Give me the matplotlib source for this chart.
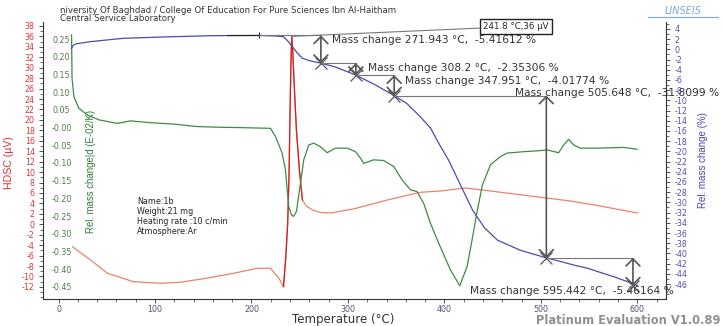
import numpy as np
import matplotlib.pyplot as plt
from matplotlib.lines import Line2D
from matplotlib.ticker import MultipleLocator, FormatStrFormatter

plt.rcParams["axes.unicode_minus"] = False

W, H = 723, 326

# ---- DSC signal (uV) ----
dsc_T = [14.5, 33.2, 50.8, 77.7, 105.7, 126.4, 154.4, 181.3, 206.2, 219.7, 228.3, 233.2,
         235.5, 237.5, 239.0, 240.3, 241.2, 241.8, 242.8, 244.5, 246.6, 249.7, 252.8, 257.0,
         263.2, 271.5, 281.9, 305.7, 340.9, 375.1, 395.9, 421.8, 447.7, 489.1, 530.6, 561.7, 600.0]
dsc_uV = [-4.3, -6.84, -9.39, -11.0, -11.3, -11.1, -10.3, -9.39, -8.43, -8.43, -10.3, -11.95,
          -6.5, 0.0, 10.0, 25.0, 33.0, 36.0, 33.0, 26.0, 18.0, 10.4, 4.66, 3.5,
          2.74, 2.26, 2.16, 2.93, 4.66, 6.13, 6.38, 6.95, 6.38, 5.42, 4.46, 3.5, 2.16]

# ---- DTG signal (E-02/K) ----
dtg_T = [13.5, 14.0, 15.9, 21.0, 29.7, 41.8, 60.8, 74.6, 95.3, 119.2, 143.7, 167.9, 188.6,
         219.7, 224.9, 231.8, 235.2, 238.6, 241.5, 243.8, 246.6, 250.8, 254.2, 257.7, 259.4,
         264.6, 271.5, 278.4, 287.0, 299.2, 307.8, 312.9, 316.4, 326.7, 337.1, 347.5, 356.2,
         364.8, 371.7, 378.5, 385.5, 394.1, 406.2, 415.9, 423.5, 428.7, 433.2, 439.4, 447.7,
         458.0, 465.0, 482.2, 499.5, 506.4, 518.4, 523.6, 528.8, 534.0, 540.9, 558.2, 585.8, 599.7]
dtg_val = [0.262, 0.140, 0.088, 0.055, 0.036, 0.022, 0.012, 0.019, 0.014, 0.010, 0.003, 0.001, 0.0,
           -0.002, -0.025, -0.072, -0.119, -0.223, -0.247, -0.251, -0.237, -0.157, -0.091, -0.063, -0.049,
           -0.044, -0.054, -0.071, -0.058, -0.058, -0.068, -0.086, -0.101, -0.091, -0.093, -0.110, -0.148,
           -0.176, -0.181, -0.214, -0.270, -0.327, -0.402, -0.447, -0.393, -0.317, -0.247, -0.162, -0.105,
           -0.082, -0.072, -0.068, -0.065, -0.063, -0.071, -0.049, -0.033, -0.049, -0.058, -0.058, -0.056, -0.061]

# ---- TG signal (%) ----
tg_T = [13.5, 15.0, 17.6, 32.7, 67.4, 119.2, 160.6, 208.3, 224.9, 233.2, 238.3, 243.5, 247.7,
        252.8, 261.1, 271.9, 287.0, 308.2, 328.5, 348.0, 361.0, 375.0, 385.5, 395.0, 404.3,
        416.7, 429.2, 441.6, 455.0, 478.9, 505.6, 520.6, 534.4, 548.2, 575.9, 596.6, 600.0]
tg_pct = [0.22, 0.75, 1.06, 1.51, 2.18, 2.49, 2.69, 2.73, 2.63, 2.49, 1.51, 0.27, -0.76,
          -1.75, -2.27, -2.69, -3.45, -5.04, -6.98, -9.06, -10.6, -13.2, -15.4, -18.7, -21.7,
          -26.6, -31.5, -35.0, -37.4, -39.4, -40.87, -41.6, -42.3, -42.9, -44.6, -46.0, -46.33]

# ---- mass-change steps ----
step_start_T, step_start_pct = 208.3, 2.73
step_T = [271.943, 308.2, 347.951, 505.648, 595.442]
step_dm = [-5.41612, -2.35306, -4.01774, -31.8099, -5.46164]
peak_T, peak_uV = 241.8, 36

x_ticks = list(range(0, 601, 100))
dsc_ticks = list(range(-12, 39, 2))
dtg_ticks = [round(v, 2) for v in np.arange(-0.45, 0.2501, 0.05)]
tg_ticks = list(range(-46, 5, 2))

RED, RED_DARK = "#E8836B", "#D41E1E"
GREEN = "#3D8B45"
BLUE = "#4B4BB0"
GREY = "#555555"
LABEL_FONT = "Liberation Sans"


def fx(x):
    return x / W


def fy(y):
    return 1 - y / H


fig = plt.figure(figsize=(W / 100, H / 100), dpi=100)
ax_r = fig.add_axes([fx(43), fy(299), (666 - 43) / W, (299 - 22) / H])
ax_g = ax_r.twinx()
ax_b = ax_r.twinx()

# DSC
T = np.array(dsc_T)
v = np.array(dsc_uV)
ax_r.plot(T, v, color=RED, lw=0.9, zorder=3)
steep = (T >= 233) & (T <= 253)
ax_r.plot(T[steep], v[steep], color=RED_DARK, lw=0.9, zorder=3)

# DTG, TG
ax_g.plot(dtg_T, dtg_val, color=GREEN, lw=0.9)
ax_b.plot(tg_T, tg_pct, color=BLUE, lw=0.9)

ax_r.set_xlim(-16.1, 629.7)
ax_r.set_ylim(-14.31, 38.75)
ax_g.set_ylim(-0.4845, 0.2986)
ax_b.set_ylim(-48.94, 5.37)

# spines
for s in ["top", "right"]:
    ax_r.spines[s].set_visible(False)
for s in ["left", "bottom"]:
    ax_r.spines[s].set_color("#333333")
    ax_r.spines[s].set_linewidth(0.8)
for s in ax_g.spines.values():
    s.set_visible(False)
for s in ["top", "left", "bottom"]:
    ax_b.spines[s].set_visible(False)
ax_b.spines["right"].set_color("#333333")
ax_b.spines["right"].set_linewidth(0.8)

# x axis
ax_r.set_xticks(x_ticks)
ax_r.xaxis.set_minor_locator(MultipleLocator(20))
ax_r.tick_params(axis="x", which="major", length=3, width=0.6, color="#333333",
                 labelsize=5.7, labelcolor="#505078", pad=1)
ax_r.tick_params(axis="x", which="minor", length=2, width=0.5, color="#333333")

# red y axis
ax_r.set_yticks(dsc_ticks)
ax_r.yaxis.set_minor_locator(MultipleLocator(1))
ax_r.tick_params(axis="y", which="major", length=3, width=0.6, color="#333333",
                 labelsize=5.7, labelcolor="#E03535", pad=3)
ax_r.tick_params(axis="y", which="minor", length=2, width=0.5, color="#333333")

# green y axis, labels inside the plot
ax_g.yaxis.tick_left()
ax_g.set_yticks(dtg_ticks)
ax_g.yaxis.set_major_formatter(FormatStrFormatter("%.2f"))
ax_g.tick_params(axis="y", length=0, labelsize=5.7, labelcolor="#4E7B45", pad=-6.5)
for t in ax_g.yaxis.get_major_ticks():
    t.label1.set_horizontalalignment("left")

# blue y axis
ax_b.set_yticks(tg_ticks)
ax_b.yaxis.set_minor_locator(MultipleLocator(1))
ax_b.tick_params(axis="y", which="major", length=3, width=0.6, color="#333333",
                 labelsize=5.7, labelcolor="#5050B0", pad=3)
ax_b.tick_params(axis="y", which="minor", length=2, width=0.5, color="#333333")

# mass change steps
levels = [step_start_pct]
for dm in step_dm:
    levels.append(levels[-1] + dm)

ax_b.plot([175, step_start_T], [step_start_pct, step_start_pct], color="#222222", lw=0.8)
ax_b.plot(step_start_T, step_start_pct, marker="+", ms=5, mew=0.8, color="#222222")

text_offsets = [(11, -5), (12, -4.6), (11, -5.6), (-31, 3), (-163, -33.5)]
prev = step_start_T
for i, (t, dm) in enumerate(zip(step_T, step_dm)):
    top, bot = levels[i], levels[i + 1]
    ax_b.plot([prev, t], [top, top], color="#777777", lw=0.8)
    ax_b.annotate("", xy=(t, bot), xytext=(t, top),
                  arrowprops=dict(arrowstyle="<->,head_length=0.5,head_width=0.5", color=GREY,
                                  lw=1.2, shrinkA=0, shrinkB=0, mutation_scale=10))
    ax_b.plot(t, bot, marker="x", ms=8, mew=0.9, color=GREY)
    ax_b.annotate(f"Mass change {t:g} °C,  {dm:g} %", xy=(t, top),
                  xytext=text_offsets[i], textcoords="offset pixels",
                  ha="left", va="center", fontsize=7.7, color="#333333",
                  annotation_clip=False)
    prev = t

# DSC peak box
ax_r.annotate(f"{peak_T} °C,{peak_uV} µV", xy=(peak_T, peak_uV),
              xytext=(516, H - 26.5), textcoords="figure pixels",
              ha="center", va="center", fontsize=6.2, color="#222222",
              bbox=dict(boxstyle="square,pad=0.4", fc="white", ec="#222222", lw=1.0),
              arrowprops=dict(arrowstyle="-", color="#777777", lw=0.8, shrinkA=0, shrinkB=0),
              annotation_clip=False)

# axis labels
fig.text(fx(9), fy(163), "HDSC (µV)", rotation=90, color="#E03030", fontsize=7.6,
         ha="center", va="center", family=LABEL_FONT)
fig.text(fx(90.5), fy(171), "Rel. mass change|d (E-02/K)", rotation=90, color="#2E7D32",
         fontsize=6.9, ha="center", va="center", family=LABEL_FONT)
fig.text(fx(703), fy(160), "Rel. mass change (%)", rotation=90, color="#4545C0",
         fontsize=7.0, ha="center", va="center", family=LABEL_FONT)
fig.text(fx(343), fy(319.5), "Temperature (°C)", fontsize=8.5, color="#333333",
         ha="center", va="center")

# header / footer
fig.text(fx(60), fy(10.7), "niversity Of Baghdad / College Of Education For Pure Sciences Ibn Al-Haitham",
         fontsize=6.2, color="#333333", va="center")
fig.text(fx(60), fy(18.5), "Central Service Laboratory", fontsize=6.2, color="#333333", va="center")
fig.text(fx(683), fy(11), "LINSEIS", fontsize=7, style="italic", color="#7FA8D8",
         ha="center", va="center")
fig.add_artist(Line2D([fx(648), fx(718)], [fy(17), fy(17)], color="#7FA8D8", lw=0.8))
fig.text(fx(720), fy(320), "Platinum Evaluation V1.0.89", fontsize=8.3, weight="bold",
         color="#909090", ha="right", va="center")

fig.text(fx(137), fy(216.5), "Name:1b\nWeight:21 mg\nHeating rate :10 c/min\nAtmosphere:Ar",
         fontsize=5.8, color="#222222", ha="left", va="center", linespacing=1.1)

fig.savefig("out.png", dpi=100)
